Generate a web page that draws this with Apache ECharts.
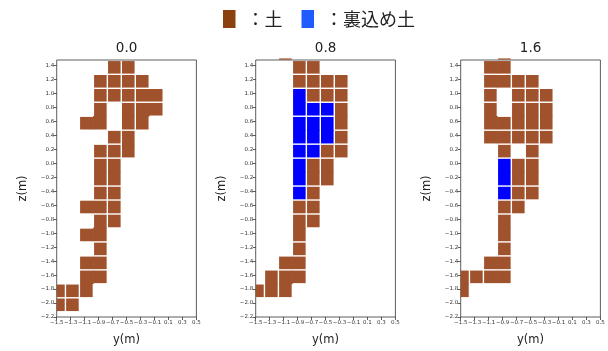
<!DOCTYPE html>
<html>
<head>
<meta charset="utf-8">
<script src="https://cdn.jsdelivr.net/npm/echarts@6/dist/echarts.min.js"></script>
<style>
  html, body { margin: 0; padding: 0; background: #fff; }
  #chart { width: 608px; height: 351px; }
</style>
</head>
<body>
<div id="chart"></div>
<script>
// ---------------- data ----------------
const panelTitles = ['0.0', '0.8', '1.6'];
const materialNames = ['土', '裏込め土'];
// horizontal-axis (y) tick labels and vertical-axis (z) tick labels
const yTicks = [-1.5, -1.3, -1.1, -0.9, -0.7, -0.5, -0.3, -0.1, 0.1, 0.3, 0.5];
const zTicks = [-2.2, -2.0, -1.8, -1.6, -1.4, -1.2, -1.0, -0.8, -0.6, -0.4, -0.2, 0.0, 0.2, 0.4, 0.6, 0.8, 1.0, 1.2, 1.4];
// cell centres (cells are 0.2 m x 0.2 m)
const yCentres = [-1.475, -1.275, -1.075, -0.875, -0.675, -0.475, -0.275, -0.075];
const zCentres = [1.575, 1.375, 1.175, 0.975, 0.775, 0.575, 0.375, 0.175, -0.025, -0.225,
                  -0.425, -0.625, -0.825, -1.025, -1.225, -1.425, -1.625, -1.825, -2.025];
// cell maps: one row per z centre, one char per y centre.
// '.' = empty, lowercase = 土 element, uppercase = 裏込め土 element; equal adjacent chars = same element
const panel00 = [
  "........",
  "....ab..",
  "...cdef.",
  "...ghijj",
  "...k.lmm",
  "..kk.lm.",
  "....no..",
  "...pqo..",
  "...rs...",
  "...rs...",
  "...tu...",
  "..vvw...",
  "...xy...",
  "..xx....",
  "...z....",
  "..aa....",
  "..bb....",
  "cdb.....",
  "ef......"
];
const panel08 = [
  "..a.....",
  "...bc...",
  "...defg.",
  "...Ahij.",
  "...ABCk.",
  "...DEFk.",
  "...DEFl.",
  "...GHmn.",
  "...Iop..",
  "...Iop..",
  "...Jq...",
  "...rs...",
  "...tu...",
  "...t....",
  "...v....",
  "..ww....",
  ".xyy....",
  "zxy.....",
  "........"
];
const panel16 = [
  "...a....",
  "..bb....",
  "..ccde..",
  "..f.ghi.",
  "..j.klm.",
  "..jjklm.",
  "..nnopq.",
  "...r.s..",
  "...Atu..",
  "...Atu..",
  "...Bvw..",
  "...xy...",
  "...z....",
  "...z....",
  "...a....",
  "..bb....",
  "cdee....",
  "c.......",
  "........"
];
const panelMaps = [panel00, panel08, panel16];

// ---------------- styling / layout ----------------
const FONT = 'DejaVu Sans';
const CJK = 'Noto Sans CJK JP';
const GRID_LEFT = [56.7, 255.7, 460.7];
const GRID_TOP = 60, GRID_W = 139.7, GRID_H = 258.3;
const CELL_COLORS = ['#A0522D', '#0000FF'];
const LEGEND_COLORS = ['#8B4010', '#1E5CFF'];
const HALF = 0.1;
const GAP = 0.7;

function fmt(v) {
  const s = Math.abs(v).toFixed(1);
  return (v < -1e-9 ? '\u2212' : '') + s;
}

function buildCells(map, upper) {
  const out = [];
  const at = (r, c) => (r < 0 || r >= map.length || c < 0 || c >= map[r].length) ? '.' : map[r][c];
  for (let r = 0; r < map.length; r++) {
    for (let c = 0; c < map[r].length; c++) {
      const ch = map[r][c];
      if (ch === '.') continue;
      const isUpper = ch !== ch.toLowerCase();
      if (isUpper !== upper) continue;
      out.push([yCentres[c], zCentres[r],
        at(r - 1, c) !== ch ? 1 : 0,
        at(r, c + 1) !== ch ? 1 : 0,
        at(r + 1, c) !== ch ? 1 : 0,
        at(r, c - 1) !== ch ? 1 : 0]);
    }
  }
  return out;
}

function renderCell(params, api) {
  const y = api.value(0), z = api.value(1);
  const p0 = api.coord([y - HALF, z + HALF]);
  const p1 = api.coord([y + HALF, z - HALF]);
  const ext = -0.3;
  const x0 = p0[0] + (api.value(5) ? GAP : ext);
  const x1 = p1[0] - (api.value(3) ? GAP : ext);
  const y0 = p0[1] + (api.value(2) ? GAP : ext);
  const y1 = p1[1] - (api.value(4) ? GAP : ext);
  const cs = params.coordSys;
  const rect = echarts.graphic.clipRectByRect(
    { x: x0, y: y0, width: x1 - x0, height: y1 - y0 },
    { x: cs.x, y: cs.y - 1.6, width: cs.width, height: cs.height + 1.6 });
  if (!rect) return null;
  return { type: 'rect', shape: rect, style: { fill: api.visual('color') } };
}

const grids = [], xAxes = [], yAxes = [], series = [], graphics = [];
for (let i = 0; i < 3; i++) {
  grids.push({ left: GRID_LEFT[i], top: GRID_TOP, width: GRID_W, height: GRID_H,
    show: true, borderColor: '#333', borderWidth: 0.8, backgroundColor: '#fff' });
  xAxes.push({
    gridIndex: i, type: 'value', min: -1.5, max: 0.5, position: 'bottom',
    name: 'y(m)', nameLocation: 'middle', nameGap: 17,
    nameTextStyle: { fontSize: 11.5, color: '#222', fontFamily: FONT },
    axisLine: { show: false, onZero: false }, splitLine: { show: false },
    axisTick: { show: true, length: 3, lineStyle: { color: '#333', width: 0.8 }, customValues: yTicks },
    axisLabel: { customValues: yTicks, fontSize: 5.5, margin: 2.5, color: '#333', fontFamily: FONT, formatter: fmt }
  });
  yAxes.push({
    gridIndex: i, type: 'value', min: -2.2, max: 1.48, position: 'left',
    name: 'z(m)', nameLocation: 'middle', nameGap: 28, nameRotate: 90,
    nameTextStyle: { fontSize: 11.5, color: '#222', fontFamily: FONT },
    axisLine: { show: false, onZero: false }, splitLine: { show: false },
    axisTick: { show: true, length: 3, lineStyle: { color: '#333', width: 0.8 }, customValues: zTicks },
    axisLabel: { customValues: zTicks, fontSize: 5.5, margin: 2.5, color: '#333', fontFamily: FONT, formatter: fmt }
  });
  for (let m = 0; m < 2; m++) {
    series.push({
      type: 'custom', name: materialNames[m], xAxisIndex: i, yAxisIndex: i,
      coordinateSystem: 'cartesian2d', clip: false, silent: true,
      itemStyle: { color: CELL_COLORS[m] },
      encode: { x: 0, y: 1 },
      renderItem: renderCell,
      data: buildCells(panelMaps[i], m === 1)
    });
  }
  graphics.push({
    type: 'text', x: GRID_LEFT[i] + GRID_W / 2, y: 48,
    style: { text: panelTitles[i], fill: '#222', font: '13.5px "DejaVu Sans"',
      textAlign: 'center', textVerticalAlign: 'middle', align: 'center', verticalAlign: 'middle' }
  });
}

const chart = echarts.init(document.getElementById('chart'), null, { renderer: 'canvas' });
chart.setOption({
  animation: false,
  backgroundColor: '#fff',
  legend: {
    left: 223, top: 10, padding: 0,
    icon: 'rect', itemWidth: 12.5, itemHeight: 18, itemGap: 19,
    selectedMode: false,
    data: materialNames.map((n, k) => ({ name: n, itemStyle: { color: LEGEND_COLORS[k] } })),
    formatter: n => '{g|}：' + n,
    textStyle: { fontSize: 18, color: '#222', fontFamily: CJK, rich: { g: { width: 6 } } }
  },
  grid: grids, xAxis: xAxes, yAxis: yAxes, series: series, graphic: graphics
});
</script>
</body>
</html>
